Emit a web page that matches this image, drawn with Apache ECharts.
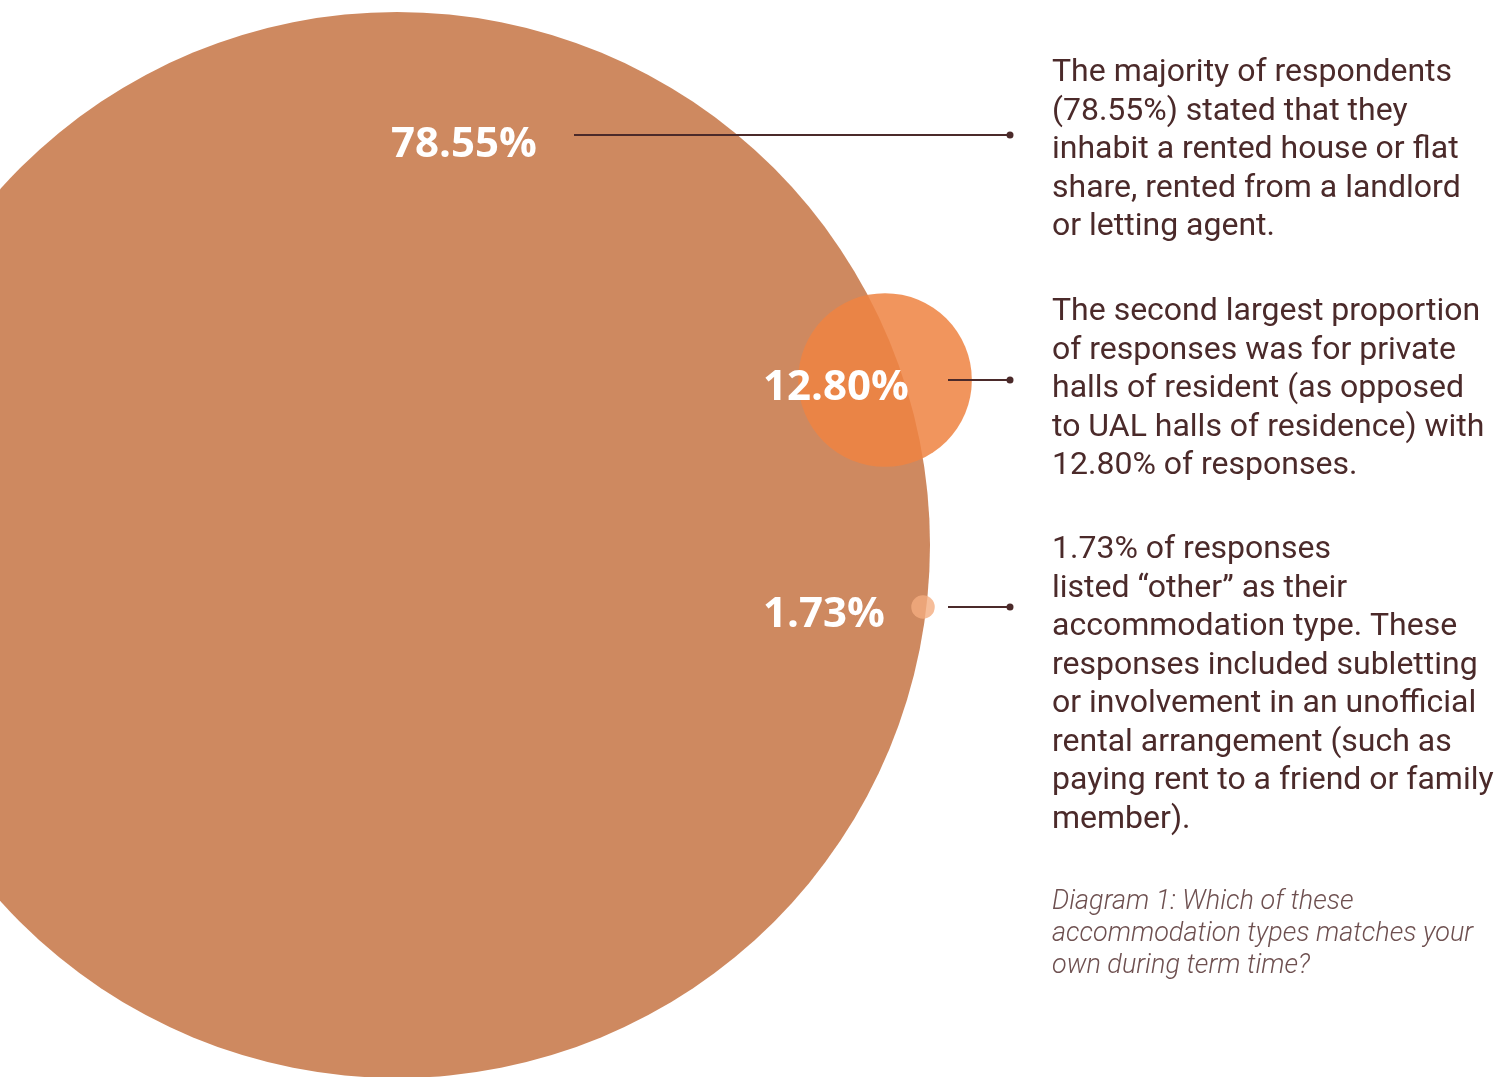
<!DOCTYPE html>
<html>
<head>
<meta charset="utf-8">
<title>Accommodation types during term time</title>
<style>
  html, body { margin: 0; padding: 0; background: #ffffff; }
  #chart { width: 1499px; height: 1077px; }
</style>
<script src="https://cdn.jsdelivr.net/npm/echarts@6/dist/echarts.min.js"></script>
</head>
<body>
<div id="chart"></div>
<script>
// ---- data ----
const categories = [
  'Rented house or flat share',
  'Private halls of residence',
  'Other'
];
const shares = [78.55, 12.80, 1.73];
const valueLabels = shares.map(v => v.toFixed(2) + '%');

const notes = [
  [
    'The majority of respondents',
    '(78.55%) stated that they',
    'inhabit a rented house or flat',
    'share, rented from a landlord',
    'or letting agent.'
  ],
  [
    'The second largest proportion',
    'of responses was for private',
    'halls of resident (as opposed',
    'to UAL halls of residence) with',
    '12.80% of responses.'
  ],
  [
    '1.73% of responses',
    'listed \u201cother\u201d as their',
    'accommodation type. These',
    'responses included subletting',
    'or involvement in an unofficial',
    'rental arrangement (such as',
    'paying rent to a friend or family',
    'member).'
  ]
];
const caption = [
  'Diagram 1: Which of these',
  'accommodation types matches your',
  'own during term time?'
];

// ---- layout (canvas-sized coordinate space) ----
const bubbleCentres = [[397, 545], [885, 380], [923, 607]];
const radiusPerPoint = 533 / 78.55;          // bubble radius grows linearly with share
const labelAnchors = [[391, 145], [763, 388], [763, 615]];
const leaderStarts = [[574, 135], [948, 380], [948, 607]];
const leaderEndX = 1010;
const noteTops = [54, 293, 531];
const captionTop = 886;
const bubbleColours = ['#CE8960', 'rgba(239,132,66,0.86)', 'rgba(244,172,128,0.8)'];

const ink = '#4B2A2A';

const chart = echarts.init(document.getElementById('chart'), null, { renderer: 'canvas' });

const bubbleData = shares.map((v, i) => ({
  name: categories[i],
  value: [bubbleCentres[i][0], bubbleCentres[i][1], v],
  itemStyle: { color: bubbleColours[i], opacity: 1 }
}));

const leaderSeries = leaderStarts.map((s, i) => ({
  type: 'line',
  silent: true,
  z: 5,
  data: [
    { value: [s[0], s[1]], symbol: 'none' },
    { value: [leaderEndX, s[1]], symbol: 'circle', symbolSize: 7 }
  ],
  lineStyle: { color: ink, width: 2 },
  itemStyle: { color: ink, opacity: 1 },
  animation: false
}));

const graphics = [];
valueLabels.forEach((t, i) => {
  graphics.push({
    type: 'text',
    z: 20,
    silent: true,
    style: {
      text: t,
      x: labelAnchors[i][0],
      y: labelAnchors[i][1],
      fill: '#ffffff',
      font: '700 42px "Open Sans", sans-serif',
      verticalAlign: 'middle',
      align: 'left'
    }
  });
});
notes.forEach((lines, i) => {
  graphics.push({
    type: 'text',
    z: 20,
    silent: true,
    style: {
      text: lines.join('\n'),
      x: 1052,
      y: noteTops[i],
      fill: ink,
      font: '400 32px Roboto, sans-serif',
      lineHeight: 38.5,
      verticalAlign: 'top',
      align: 'left'
    }
  });
});
graphics.push({
  type: 'text',
  z: 20,
  silent: true,
  style: {
    text: caption.join('\n'),
    x: 1052,
    y: captionTop,
    fill: '#6E5050',
    font: 'italic 300 27px Roboto, sans-serif',
    lineHeight: 32,
    verticalAlign: 'top',
    align: 'left'
  }
});

chart.setOption({
  animation: false,
  backgroundColor: '#ffffff',
  grid: { left: 0, right: 0, top: 0, bottom: 0 },
  xAxis: { type: 'value', min: 0, max: 1499, show: false },
  yAxis: { type: 'value', min: 0, max: 1077, inverse: true, show: false },
  series: [
    {
      type: 'scatter',
      silent: true,
      z: 2,
      symbol: 'circle',
      symbolSize: (val) => val[2] * 2 * radiusPerPoint,
      itemStyle: { opacity: 1 },
      data: bubbleData,
      emphasis: { disabled: true }
    },
    ...leaderSeries
  ],
  graphic: graphics
});
</script>
</body>
</html>
